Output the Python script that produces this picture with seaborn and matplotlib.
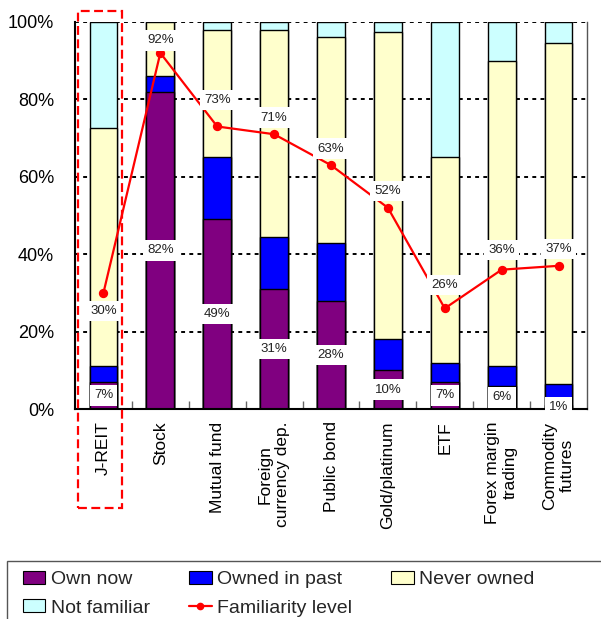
import matplotlib
matplotlib.use("Agg")
import matplotlib.pyplot as plt
import seaborn as sns
import numpy as np
from matplotlib.patches import Rectangle, Patch
from matplotlib.lines import Line2D
from matplotlib.ticker import FixedLocator, PercentFormatter

categories = ["J-REIT", "Stock", "Mutual fund", "Foreign\ncurrency dep.", "Public bond",
              "Gold/platinum", "ETF", "Forex margin\ntrading", "Commodity\nfutures"]
own_now = [7, 82, 49, 31, 28, 10, 7, 6, 1]
owned_past = [4, 4, 16, 13.5, 15, 8, 5, 5, 5.5]
never_owned = [61.5, 14, 33, 53.5, 53, 79.5, 53, 79, 88]
not_familiar = [27.5, 0, 2, 2, 4, 2.5, 35, 10, 5.5]
familiarity = [30, 92, 73, 71, 63, 52, 26, 36, 37]

series_names = ["Own now", "Owned in past", "Never owned", "Not familiar"]
series_colors = ["#800080", "#0000FF", "#FFFFCC", "#CCFFFF"]
line_name = "Familiarity level"

sns.set_theme(style="white")
plt.rcParams["font.family"] = ["Liberation Sans", "DejaVu Sans"]

fig = plt.figure(figsize=(6.01, 6.19), dpi=100)
ax = fig.add_axes([75 / 601, 1 - 409 / 619, 512 / 601, 387 / 619])

# stacked bars: draw cumulative totals from the tallest layer down
layers = np.cumsum(np.array([own_now, owned_past, never_owned, not_familiar]), axis=0)
for vals, color in zip(layers[::-1], series_colors[::-1]):
    sns.barplot(x=categories, y=vals, color=color, saturation=1, width=0.49,
                edgecolor="black", linewidth=1.0, errorbar=None, ax=ax, zorder=2)

sns.pointplot(x=categories, y=familiarity, color="#FF0000", markers="o",
              linestyles="-", linewidth=1.6, markersize=5.5, errorbar=None,
              ax=ax, zorder=4)

ax.set_xlim(-0.5, 8.5)
ax.set_ylim(0, 100)
ax.set_xlabel("")
ax.set_ylabel("")

# grid and spines
ax.yaxis.set_major_locator(FixedLocator([0, 20, 40, 60, 80, 100]))
ax.yaxis.set_major_formatter(PercentFormatter(decimals=0))
ax.yaxis.grid(True, linestyle=(0, (2, 2.2)), color="black", linewidth=1.4)
ax.set_axisbelow(True)
ax.spines["top"].set_visible(False)
ax.spines["left"].set_color("black")
ax.spines["left"].set_linewidth(1.5)
ax.spines["bottom"].set_color("black")
ax.spines["bottom"].set_linewidth(1.5)
ax.spines["right"].set_color("#555555")
ax.spines["right"].set_linewidth(1.0)

ax.tick_params(axis="y", which="major", direction="in", length=0, pad=15,
               labelsize=13, labelcolor="black")
ax.tick_params(axis="x", which="major", length=0, pad=9, labelsize=12.5,
               labelcolor="black", labelrotation=90)
ax.xaxis.set_minor_locator(FixedLocator(np.arange(0.5, 8.5, 1.0)))
ax.tick_params(axis="x", which="minor", direction="in", length=6, width=1,
               color="#666666", bottom=True)
for lbl in ax.get_xticklabels():
    lbl.set_verticalalignment("top")
    lbl.set_horizontalalignment("center")
    lbl.set_multialignment("center")

# value labels for current ownership
box = dict(boxstyle="square,pad=0.32", facecolor="white", edgecolor="none")
for i, v in enumerate(own_now):
    ax.text(i, v / 2, f"{v}%", ha="center", va="center", fontsize=9.5,
            color="#222222", bbox=box, zorder=5, clip_on=False)

# value labels for familiarity level
label_dy = [-13, 9, 19, 12, 12, 12, 17, 14, 12]
for i, (v, dy) in enumerate(zip(familiarity, label_dy)):
    ax.annotate(f"{v}%", (i, v), xytext=(0, dy), textcoords="offset points",
                ha="center", va="center", fontsize=9.5, color="#222222",
                bbox=box, zorder=5)

# highlight frame around the first category
fig.add_artist(Rectangle((78 / 601, 1 - 508 / 619), 44 / 601, 497 / 619,
                         transform=fig.transFigure, fill=False, edgecolor="#FF0000",
                         linestyle=(0, (4, 2)), linewidth=1.6))

# legend
handles = [Patch(facecolor=series_colors[0], edgecolor="black", lw=0.8),
           Patch(facecolor=series_colors[3], edgecolor="black", lw=0.8),
           Patch(facecolor=series_colors[1], edgecolor="black", lw=0.8),
           Line2D([], [], color="#FF0000", marker="o", markersize=4.5, lw=1.6),
           Patch(facecolor=series_colors[2], edgecolor="black", lw=0.8)]
labels = [series_names[0], series_names[3], series_names[1], line_name, series_names[2]]
fig.legend(handles, labels, ncol=3, loc="upper left",
           bbox_to_anchor=(23 / 601, 1 - 571 / 619), frameon=False,
           fontsize=14, handlelength=1.15, handleheight=0.67, handletextpad=0.3,
           columnspacing=2.0, labelspacing=0.55, borderaxespad=0, borderpad=0)
fig.add_artist(Rectangle((7 / 601, -10 / 619), 600 / 601, (619 - 561 + 10) / 619,
                         transform=fig.transFigure, fill=False, edgecolor="#555555",
                         linewidth=1.0))

fig.savefig("out.png", dpi=100)
